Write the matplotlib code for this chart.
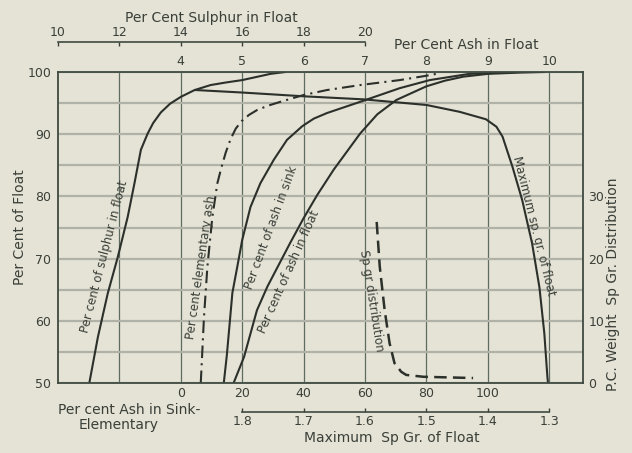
import numpy as np
import matplotlib.pyplot as plt

# per cent of float (left axis) against each curve's own scale
sulphur_pct = [11.02, 11.30, 11.62, 11.95, 12.27, 12.49, 12.70, 12.92, 13.1, 13.35, 13.65, 14.0,
               14.45, 14.97, 15.45, 16.0, 16.92, 17.4]
sulphur_float = [50, 57.4, 64.4, 70.3, 76.7, 82.1, 87.5, 90.1, 91.8, 93.5, 94.9, 96.0,
                 97.1, 97.9, 98.3, 98.7, 99.7, 100]

elem_ash = [6.5, 7.56, 8.66, 10.28, 11.9, 13.2, 14.6, 16.2, 17.9, 19.8, 22.2, 24.9, 28.5, 32.4,
            40.0, 47.6, 58.4, 71.3, 80.0, 83.2]
elem_float = [50, 60.7, 68.7, 76.7, 82.1, 84.6, 87.0, 89.2, 90.9, 92.1, 93.1, 93.9, 94.6, 95.2,
              96.3, 97.1, 97.9, 98.7, 99.4, 99.7]

sink_ash = [14.0, 15.0, 15.9, 16.8, 18.4, 20.0, 22.7, 25.9, 30.3, 34.6, 39.6, 43.3, 47.6, 59.0, 71.3,
            81.1, 94.0, 110.3]
sink_float = [50, 54.5, 59.5, 64.5, 68.7, 73.0, 78.3, 82.1, 85.9, 89.1, 91.3, 92.5, 93.4, 95.3, 97.4,
              98.7, 99.7, 100]

float_ash = [4.86, 5.03, 5.24, 5.41, 5.78, 6.0, 6.22, 6.49, 6.92, 7.2, 7.51, 8.0, 8.3, 8.6, 9.0,
             9.5, 9.92]
float_float = [50, 54.2, 61.7, 65.5, 72.5, 76.5, 80.2, 84.3, 90.1, 93.2, 95.5, 97.7, 98.6, 99.25,
               99.7, 99.9, 100]

max_spgr = [1.876, 1.80, 1.701, 1.602, 1.50, 1.446, 1.403, 1.386, 1.376, 1.360, 1.344, 1.328,
            1.316, 1.308, 1.303, 1.302]
max_float = [97.1, 96.7, 96.1, 95.6, 94.7, 93.6, 92.4, 91.2, 89.6, 84.8, 79.4, 72.5,
             65.4, 58.0, 51.0, 50]

# sp gr distribution, right axis (per cent weight)
dist_spgr = [1.581, 1.576, 1.568, 1.560, 1.552, 1.541, 1.533, 1.505, 1.424]
dist_weight = [25.9, 18.7, 11.7, 6.4, 3.2, 1.8, 1.3, 1.0, 0.8]

ash_ticks = [4, 5, 6, 7, 8, 9, 10]
sulphur_ticks = [10, 12, 14, 16, 18, 20]
sink_ticks = [0, 20, 40, 60, 80, 100]
spgr_ticks = [1.8, 1.7, 1.6, 1.5, 1.4, 1.3]
right_ticks = [0, 10, 20, 30]


# main x scale is per cent ash in float
def a_to_s(a): return 2 * a + 6
def s_to_a(s): return (np.asarray(s) - 6) / 2
def a_to_e(a): return 20 * (a - 4)
def e_to_a(e): return np.asarray(e) / 20 + 4
def a_to_g(a): return 2.3 - a / 10
def g_to_a(g): return (2.3 - np.asarray(g)) * 10


bg = '#e5e3d6'
ink = '#2c302b'
txt = '#3a3f38'
plt.rcParams['font.family'] = 'DejaVu Sans'
plt.rcParams['text.color'] = txt

fig = plt.figure(figsize=(6.32, 4.53), dpi=100, facecolor=bg)
ax = fig.add_axes([58/632, 1-383/453, 525/632, 311/453])
ax.set_facecolor(bg)
ax.set_xlim(2, 10.55)
ax.set_ylim(50, 100)

# grid
ax.set_xticks([3] + ash_ticks, labels=[''] + [str(t) for t in ash_ticks])
ax.xaxis.tick_top()
ax.tick_params(axis='x', length=0, pad=3, labelsize=9, colors=txt)
ax.set_yticks([50, 60, 70, 80, 90, 100])
ax.set_yticks([55, 65, 75, 85, 95], minor=True)
ax.tick_params(axis='y', which='both', length=0, pad=5, labelsize=9, colors=txt)
ax.grid(axis='x', color='#5d6b60', lw=0.9)
ax.grid(axis='y', which='both', color='#b1b2a7', lw=1.6)
ax.set_axisbelow(True)
for s in ax.spines.values():
    s.set_color('#3e4a40')
    s.set_linewidth(1.3)

# curves
lw = 1.5
ax.plot(s_to_a(sulphur_pct), sulphur_float, color=ink, lw=lw)
ax.plot(e_to_a(elem_ash), elem_float, color=ink, lw=lw, dashes=(6, 2.5, 1, 2.5))
ax.plot(e_to_a(sink_ash), sink_float, color=ink, lw=lw)
ax.plot(float_ash, float_float, color=ink, lw=lw)
ax.plot(g_to_a(max_spgr), max_float, color=ink, lw=lw)
ax.plot(g_to_a(dist_spgr), np.asarray(dist_weight) + 50, color=ink, lw=1.8, dashes=(5, 2.5))

# curve labels
fs = 8.5
ax.text(2.75, 70.3, 'Per cent of sulphur in float', rotation=75.5, fontsize=fs,
        ha='center', va='center', rotation_mode='anchor')
ax.text(4.33, 68.6, 'Per cent elementary ash', rotation=81.7, fontsize=fs,
        ha='center', va='center', rotation_mode='anchor')
ax.text(5.47, 74.9, 'Per cent of ash in sink', rotation=69.7, fontsize=fs,
        ha='center', va='center', rotation_mode='anchor')
ax.text(5.754, 67.9, 'Per cent of ash in float', rotation=66, fontsize=fs,
        ha='center', va='center', rotation_mode='anchor')
ax.text(7.11, 63.2, 'Sp gr distribution', rotation=-81, fontsize=fs,
        ha='center', va='center', rotation_mode='anchor')
ax.text(9.744, 75.2, 'Maximum sp. gr. of float', rotation=-75.9, fontsize=fs,
        ha='center', va='center', rotation_mode='anchor')

# top sulphur scale
ss = ax.secondary_xaxis((383-42)/311, functions=(a_to_s, s_to_a))
ss.set_xticks(sulphur_ticks)
ss.tick_params(direction='in', length=3, pad=2, labelsize=9, colors=txt, width=1)
for k in ('top', 'bottom'):
    ss.spines[k].set_bounds(10, 20)
    ss.spines[k].set_color('#3e4a40')
    ss.spines[k].set_linewidth(1.2)
ax.text((211-58)/525, (383-18)/311, 'Per Cent Sulphur in Float', transform=ax.transAxes,
        ha='center', va='center', fontsize=10)
ax.text((466-58)/525, (383-45)/311, 'Per Cent Ash in Float', transform=ax.transAxes,
        ha='center', va='center', fontsize=10)

# bottom sink scale
se = ax.secondary_xaxis('bottom', functions=(a_to_e, e_to_a))
se.set_xticks(sink_ticks)
se.tick_params(length=0, pad=3, labelsize=9, colors=txt)
for s in se.spines.values():
    s.set_visible(False)
ax.text((129-58)/525, (383-410)/311, 'Per cent Ash in Sink-', transform=ax.transAxes,
        ha='center', va='center', fontsize=10)
ax.text((119-58)/525, (383-425)/311, 'Elementary', transform=ax.transAxes,
        ha='center', va='center', fontsize=10)

# bottom sp gr scale
sg = ax.secondary_xaxis((383-412)/311, functions=(a_to_g, g_to_a))
sg.set_xticks(spgr_ticks, labels=[f'{t:.1f}' for t in spgr_ticks])
sg.tick_params(direction='in', length=3, pad=2, labelsize=9, colors=txt, width=1)
for k in ('top', 'bottom'):
    sg.spines[k].set_bounds(1.3, 1.8)
    sg.spines[k].set_color('#3e4a40')
    sg.spines[k].set_linewidth(1.2)
ax.text((392-58)/525, (383-438)/311, 'Maximum  Sp Gr. of Float', transform=ax.transAxes,
        ha='center', va='center', fontsize=10)

# right weight scale
sr = ax.secondary_yaxis('right', functions=(lambda y: y - 50, lambda r: r + 50))
sr.set_yticks(right_ticks)
sr.tick_params(length=0, pad=4, labelsize=9, colors=txt)
for s in sr.spines.values():
    s.set_visible(False)

ax.text((20-58)/525, (383-227)/311, 'Per Cent of Float', transform=ax.transAxes,
        rotation=90, ha='center', va='center', fontsize=10)
ax.text((613-58)/525, (383-284)/311, 'P.C. Weight  Sp Gr. Distribution', transform=ax.transAxes,
        rotation=90, ha='center', va='center', fontsize=10)

fig.savefig('out.png', dpi=100, facecolor=bg)
